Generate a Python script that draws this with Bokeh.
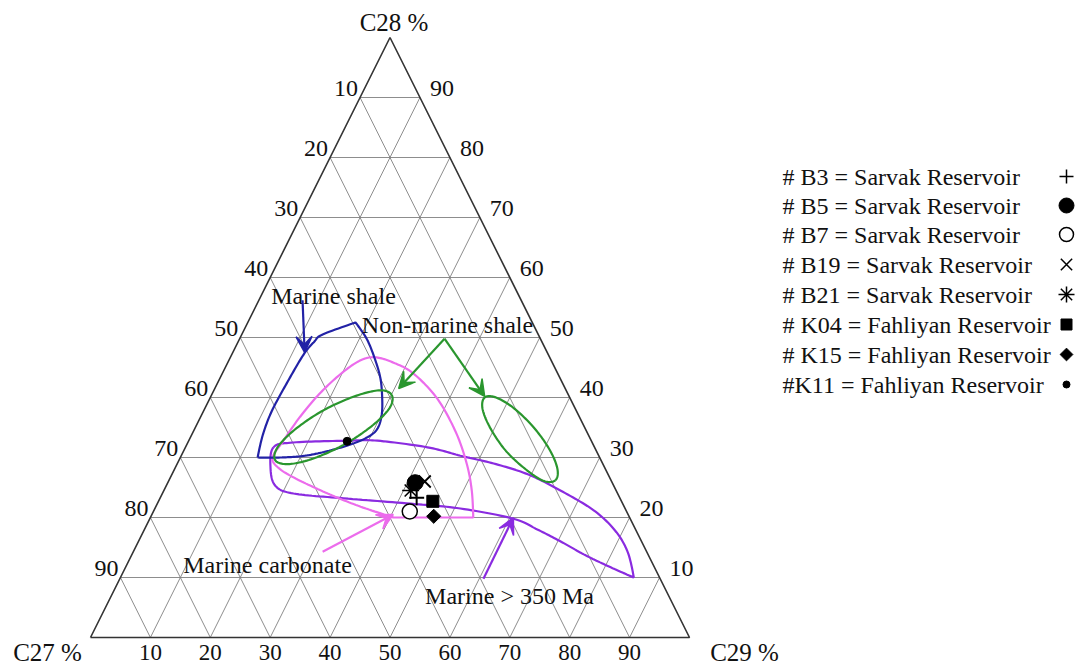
import numpy as np
from bokeh.plotting import figure
from bokeh.models import Range1d, Arrow, VeeHead
from bokeh.core.properties import value
from bokeh.embed import file_html
from bokeh.resources import INLINE

# ---------------- data (ternary %, C27 = 100 - C28 - C29) ----------------
ticks = [10, 20, 30, 40, 50, 60, 70, 80, 90]
vertex_labels = ["C27 %", "C28 %", "C29 %"]

sample_labels = ["# B3 = Sarvak Reservoir", "# B5 = Sarvak Reservoir",
                 "# B7 = Sarvak Reservoir", "# B19 = Sarvak Reservoir",
                 "# B21 = Sarvak Reservoir", "# K04 = Fahliyan Reservoir",
                 "# K15 = Fahliyan Reservoir", "#K11 = Fahliyan Reservoir"]
sample_c28 = [23.3, 25.8, 21.0, 26.0, 24.5, 22.7, 20.2, 32.7]
sample_c29 = [42.8, 41.3, 42.8, 42.8, 41.2, 45.8, 47.2, 26.5]

field_names = ["Marine shale", "Non-marine shale", "Marine carbonate", "Marine > 350 Ma"]

marine_shale_c28 = [30.0, 30.0, 30.3, 31.2, 32.3, 33.5, 34.8, 37.0, 39.8, 43.2,
                    46.5, 49.8, 52.5, 50.5, 49.3, 47.2, 42.7, 37.7, 33.7]
marine_shale_c29 = [12.9, 16.7, 20.7, 24.5, 27.6, 29.7, 30.5, 30.1, 28.8, 26.8,
                    24.2, 21.2, 18.0, 13.5, 12.7, 12.0, 11.6, 11.4, 11.9]

nonmarine_a_c28 = [40.4, 38.2, 35.2, 32.1, 29.8, 28.9, 29.6, 31.8, 34.8, 37.9, 40.2, 41.2]
nonmarine_a_c29 = [30.1, 30.8, 29.3, 26.2, 22.2, 18.5, 16.0, 15.4, 16.9, 20.0, 24.0, 27.7]

nonmarine_b_c28 = [26.2, 26.1, 28.0, 31.1, 34.9, 38.1, 40.0, 40.0, 38.2, 35.0, 31.3, 28.1]
nonmarine_b_c29 = [64.5, 62.6, 58.7, 53.8, 49.3, 46.4, 45.8, 47.7, 51.6, 56.5, 61.0, 63.9]

carbonate_c28 = [30.0, 32.8, 36.8, 40.8, 44.2, 46.2, 46.7, 45.8, 44.0, 39.8,
                 34.2, 29.0, 24.5, 20.0, 20.0, 20.0, 21.8, 24.0, 26.5, 28.3]
carbonate_c29 = [15.4, 15.8, 16.6, 18.0, 20.0, 22.0, 24.2, 27.7, 31.9, 38.0,
                 43.9, 48.3, 51.4, 53.9, 46.8, 40.6, 34.2, 27.6, 21.0, 17.2]

old_marine_c28 = [31.7, 32.5, 32.8, 32.8, 31.7, 30.3, 29.0, 27.2, 24.5, 21.2, 17.8, 14.2,
                  10.0, 11.7, 13.7, 16.0, 18.0, 19.8, 21.5, 22.3, 23.2, 24.0, 25.3, 28.3]
old_marine_c29 = [14.7, 17.6, 26.5, 31.5, 40.4, 46.6, 52.8, 59.4, 66.2, 73.4, 78.7, 82.6,
                  85.7, 81.0, 75.8, 70.5, 65.6, 60.7, 51.0, 42.3, 30.7, 21.9, 18.2, 15.9]

# arrows: (c28_start, c29_start, c28_end, c29_end)
arrow_marine_shale = [(56.2, 7.3, 47.5, 12.0)]
arrow_nonmarine = [(49.8, 34.2, 41.5, 30.7), (49.8, 34.2, 40.2, 45.7)]
arrow_carbonate = [(14.3, 31.6, 20.5, 40.3)]
arrow_old_marine = [(9.8, 60.7, 20.0, 60.6)]

# ---------------- layout ----------------
W, H = 1080, 666
PX_X, PX_Y = 5.99, 6.0          # pixels per ternary unit
X0_PX, Y0_PX = 90, 637          # pixel of left vertex (from top-left of canvas)
xr = Range1d(-X0_PX / PX_X, (W - X0_PX) / PX_X)
yr = Range1d(-(H - Y0_PX) / PX_Y, Y0_PX / PX_Y)

FONT = value("Liberation Serif")
BLUE, GREEN, PINK, PURPLE = "#2222a6", "#2a962e", "#ec6cec", "#8a2be0"
INK = "#111111"


def tern(c28, c29):
    c28 = np.asarray(c28, float)
    c29 = np.asarray(c29, float)
    return c29 + c28 / 2.0, c28


def off(x, y, dx_px, dy_px):
    return np.asarray(x) + dx_px / PX_X, np.asarray(y) - dy_px / PX_Y


def ref(rx, ry):
    return (rx - X0_PX) / PX_X, (Y0_PX - ry) / PX_Y


def smooth_closed(x, y, corners=(), n=14):
    pts = np.column_stack([x, y])
    N = len(pts)
    tang = np.array([(pts[(i + 1) % N] - pts[i - 1]) / 2.0 for i in range(N)])
    for c in corners:
        tang[c] = 0.0
    out = []
    for i in range(N):
        p1, p2 = pts[i], pts[(i + 1) % N]
        m1, m2 = tang[i], tang[(i + 1) % N]
        for t in np.linspace(0, 1, n, endpoint=False):
            h00 = 2 * t**3 - 3 * t**2 + 1
            h10 = t**3 - 2 * t**2 + t
            h01 = -2 * t**3 + 3 * t**2
            h11 = t**3 - t**2
            out.append(h00 * p1 + h10 * m1 + h01 * p2 + h11 * m2)
    out.append(pts[0])
    out = np.array(out)
    return out[:, 0], out[:, 1]


p = figure(width=W, height=H, x_range=xr, y_range=yr, output_backend="svg",
           toolbar_location=None, x_axis_type=None, y_axis_type=None,
           min_border=0, outline_line_color=None)
p.xgrid.visible = False
p.ygrid.visible = False
p.background_fill_color = "white"

# grid
gx, gy = [], []
for k in ticks:
    for a, b in ([[k, k], [0, 100 - k]], [[0, 100 - k], [k, k]], [[0, 100 - k], [100 - k, 0]]):
        x, y = tern(a, b)
        gx.append(list(x))
        gy.append(list(y))
p.multi_line(gx, gy, line_color="#808080", line_width=0.9)

tx, ty = tern([0, 100, 0, 0], [0, 0, 100, 0])
p.line(tx, ty, line_color="#333333", line_width=1.6)

# tick labels
lx, ly = off(*tern([100 - v for v in ticks], [0] * 9), -2, -9)
p.text(lx, ly, text=[str(v) for v in ticks], text_font=FONT, text_font_size=value("24px"),
       text_align="right", text_baseline="middle", text_color=INK)
rx_, ry_ = off(*tern(ticks, [100 - v for v in ticks]), 10, -9)
p.text(rx_, ry_, text=[str(v) for v in ticks], text_font=FONT, text_font_size=value("24px"),
       text_align="left", text_baseline="middle", text_color=INK)
bx, by = off(*tern([0] * 9, ticks), 0, 15)
p.text(bx, by, text=[str(v) for v in ticks], text_font=FONT, text_font_size=value("23px"),
       text_align="center", text_baseline="middle", text_color=INK)

# vertex labels
vx, vy = tern([0, 100, 0], [0, 0, 100])
cx, cy = [], []
for (x, y), (dx, dy) in zip(zip(vx, vy), [(-43, 15), (4, -15), (55, 15)]):
    a, b = off(x, y, dx, dy)
    cx.append(float(a)); cy.append(float(b))
p.text(cx, cy, text=vertex_labels, text_font=FONT, text_font_size=value("25px"),
       text_align="center", text_baseline="middle", text_color=INK)

# fields
x, y = smooth_closed(*tern(old_marine_c28, old_marine_c29), corners=[12])
p.line(x, y, line_color=PURPLE, line_width=2.2)
x, y = smooth_closed(*tern(carbonate_c28, carbonate_c29), corners=[13, 15])
p.line(x, y, line_color=PINK, line_width=2.2)
x, y = smooth_closed(*tern(marine_shale_c28, marine_shale_c29), corners=[0, 12])
p.line(x, y, line_color=BLUE, line_width=2.2)
x, y = smooth_closed(*tern(nonmarine_a_c28, nonmarine_a_c29))
p.line(x, y, line_color=GREEN, line_width=2.2)
x, y = smooth_closed(*tern(nonmarine_b_c28, nonmarine_b_c29))
p.line(x, y, line_color=GREEN, line_width=2.2)

# arrows
for arrows, col in ((arrow_marine_shale, BLUE), (arrow_nonmarine, GREEN),
                    (arrow_carbonate, PINK), (arrow_old_marine, PURPLE)):
    for a28, a29, b28, b29 in arrows:
        xs, ys = tern([a28, b28], [a29, b29])
        p.add_layout(Arrow(end=VeeHead(size=16, fill_color=col, line_color=col, line_width=1.5),
                           x_start=float(xs[0]), y_start=float(ys[0]),
                           x_end=float(xs[1]), y_end=float(ys[1]),
                           line_color=col, line_width=2.2))

# field labels
fx, fy = zip(ref(333, 295), ref(447, 324), ref(267, 564), ref(509, 595))
p.text(list(fx), list(fy), text=field_names, text_font=FONT, text_font_size=value("24px"),
       text_align="center", text_baseline="middle", text_color=INK)

# samples
markers = ["cross", "circle", "circle", "x", "asterisk", "square", "square", "circle"]
angles = [0, 0, 0, 0, 0, 0, np.pi / 4, 0]
sizes = [15, 16, 15, 17, 17, 12, 10, 8]
fills = ["black", "black", "white", "black", "black", "black", "black", "black"]
lws = [2, 1, 1.5, 1.8, 1.6, 1, 1, 1]
sx, sy = tern(sample_c28, sample_c29)
order = [3, 4, 0, 1, 5, 2, 6, 7]
for i in order:
    p.scatter([sx[i]], [sy[i]], marker=markers[i], size=sizes[i], angle=angles[i],
              fill_color=fills[i], line_color="black", line_width=lws[i])

# legend (text then marker on the right)
rows = [176, 205, 234, 264, 294, 324, 354, 384]
leg_sizes = [14, 15, 14, 16, 16, 11, 9, 7]
lgx, lgy, mkx, mky = [], [], [], []
for r in rows:
    a, b = ref(782, r)
    lgx.append(a); lgy.append(b)
    a, b = ref(1066, r)
    mkx.append(a); mky.append(b)
p.text(lgx, lgy, text=sample_labels, text_font=FONT, text_font_size=value("24px"),
       text_align="left", text_baseline="middle", text_color=INK)
for i in range(len(sample_labels)):
    p.scatter([mkx[i]], [mky[i]], marker=markers[i], size=leg_sizes[i], angle=angles[i],
              fill_color=fills[i], line_color="black", line_width=min(lws[i], 1.5))

open("out.html", "w").write(file_html(p, INLINE))
